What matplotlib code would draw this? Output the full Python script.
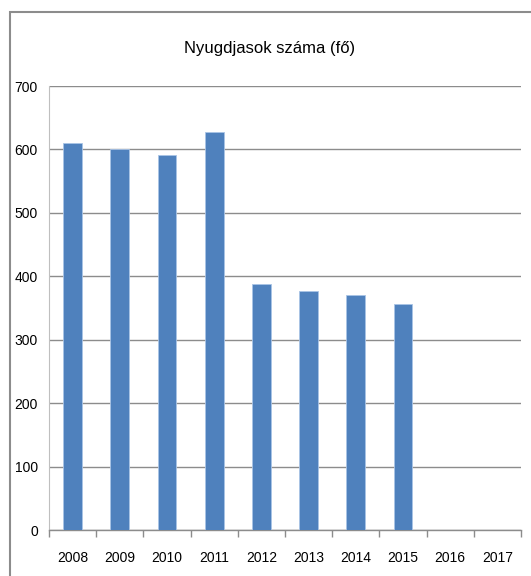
import matplotlib
matplotlib.use("Agg")
import matplotlib.pyplot as plt
from matplotlib.patches import Rectangle
import numpy as np

years = ["2008", "2009", "2010", "2011", "2012", "2013", "2014", "2015", "2016", "2017"]
values = [610, 600, 592, 628, 388, 377, 371, 357, 0, 0]
title = "Nyugdjasok száma (fő)"
yticks = [0, 100, 200, 300, 400, 500, 600, 700]

W, H = 531, 576
plt.rcParams['font.family'] = ['Liberation Sans', 'DejaVu Sans']
fig = plt.figure(figsize=(W / 100, H / 100), dpi=100)

# outer chart border
fig.patches.append(Rectangle((10 / W, -0.1), 1.2, (H - 12) / H + 0.1, transform=fig.transFigure,
                             fill=False, edgecolor="#8c8c8c", linewidth=1.5))

ax = fig.add_axes([49 / W, 1 - 530 / H, (521 - 49) / W, (530 - 86) / H])
x = np.arange(len(years))
ax.bar(x, values, width=0.4, color="#4f81bd", edgecolor="#a9c4e6", linewidth=0.6, zorder=3)
ax.set_xlim(-0.5, len(years) - 0.5)
ax.set_ylim(0, 700)
ax.set_yticks(yticks)
ax.set_yticklabels([str(v) for v in yticks], fontsize=10)
ax.yaxis.grid(True, color="#8c8c8c", linewidth=1.0, zorder=0)
ax.tick_params(axis="y", length=0, pad=8)
ax.set_xticks(x)
ax.set_xticklabels(years, fontsize=10)
ax.tick_params(axis="x", length=0, pad=15)
ax.set_xticks(np.arange(len(years) + 1) - 0.5, minor=True)
ax.tick_params(axis="x", which="minor", length=5, color="#8c8c8c", width=1)
for s in ["top", "right"]:
    ax.spines[s].set_visible(False)
ax.spines["left"].set_color("#bfbfbf")
ax.spines["bottom"].set_color("#8c8c8c")
ax.spines["bottom"].set_linewidth(1.0)

fig.text(270 / W, 1 - 48 / H, title, ha="center", va="center", fontsize=12)

fig.savefig("out.png", dpi=100)
